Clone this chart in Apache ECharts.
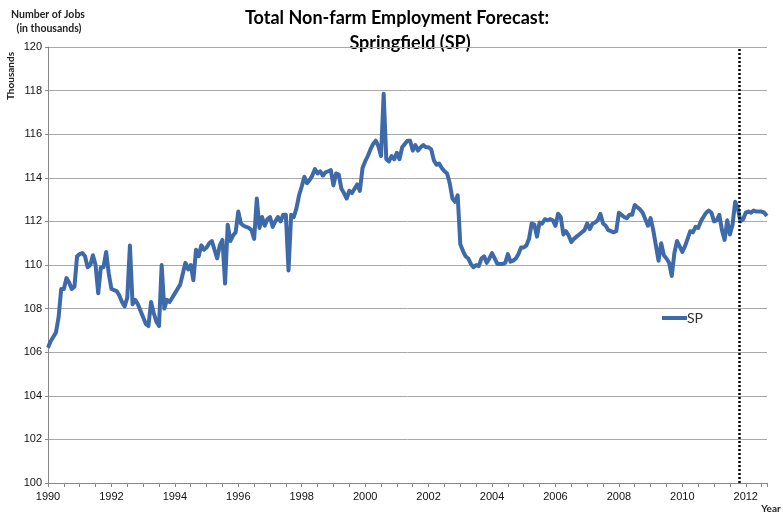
<!DOCTYPE html>
<html><head><meta charset="utf-8">
<script src="https://cdn.jsdelivr.net/npm/echarts@6/dist/echarts.min.js"></script>
<style>html,body{margin:0;padding:0;background:#fff}#c{width:783px;height:516px}</style>
</head><body><div id="c"></div>
<script>
// ---- data (monthly, thousands of jobs) ----
const startYear = 1990;
const seriesName = 'SP';
const spValues = [
  // 1990
  106.2,106.5,106.7,106.9,107.6,108.9,108.9,109.4,109.2,108.9,109.0,110.4,
  // 1991
  110.5,110.55,110.4,109.9,110.0,110.45,110.0,108.7,109.9,109.9,110.6,109.6,
  // 1992
  108.9,108.85,108.8,108.6,108.3,108.1,108.5,110.9,108.2,108.4,108.2,107.9,
  // 1993
  107.6,107.3,107.2,108.3,107.8,107.4,107.2,110.0,108.0,108.4,108.3,108.5,
  // 1994
  108.7,108.9,109.1,109.6,110.1,109.8,110.0,109.3,110.7,110.4,110.9,110.7,
  // 1995
  110.8,111.0,111.1,110.7,110.3,110.9,111.15,109.15,111.85,111.1,111.35,111.5,
  // 1996
  112.45,111.9,111.8,111.75,111.7,111.6,111.2,113.05,111.7,112.2,111.8,112.1,
  // 1997
  112.2,111.75,112.0,112.2,112.0,112.3,112.3,109.75,112.3,112.2,112.6,113.2,
  // 1998
  113.6,114.05,113.75,113.9,114.1,114.4,114.2,114.3,114.1,114.25,114.3,114.35,
  // 1999
  113.65,114.2,114.15,113.5,113.3,113.05,113.4,113.3,113.5,113.7,113.4,114.45,
  // 2000
  114.75,115.0,115.3,115.55,115.7,115.45,115.0,117.85,114.85,114.75,115.0,114.85,
  // 2001
  115.15,114.85,115.4,115.55,115.7,115.7,115.25,115.5,115.25,115.4,115.5,115.4,
  // 2002
  115.4,115.3,114.8,114.6,114.65,114.45,114.3,114.2,113.75,113.05,112.9,113.2,
  // 2003
  110.95,110.65,110.4,110.3,110.05,109.9,110.0,109.95,110.3,110.4,110.1,110.3,
  // 2004
  110.55,110.3,110.05,110.05,110.05,110.1,110.5,110.15,110.2,110.3,110.5,110.8,
  // 2005
  110.8,110.9,111.2,111.9,111.85,111.3,111.95,111.9,112.1,112.05,112.1,112.05,
  // 2006
  111.8,112.35,112.2,111.4,111.55,111.35,111.05,111.2,111.3,111.4,111.5,111.6,
  // 2007
  111.9,111.65,111.9,111.95,112.05,112.35,111.9,111.8,111.6,111.55,111.5,111.55,
  // 2008
  112.4,112.3,112.2,112.15,112.3,112.3,112.75,112.65,112.55,112.4,112.1,111.8,
  // 2009
  112.15,111.6,110.9,110.2,111.0,110.45,110.3,110.1,109.5,110.55,111.1,110.85,
  // 2010
  110.6,110.85,111.2,111.55,111.5,111.75,111.7,112.0,112.2,112.4,112.5,112.4,
  // 2011
  112.0,112.05,112.3,111.6,111.15,112.05,111.4,111.85,112.9,112.6,112.0,112.1,
  // 2012
  112.4,112.45,112.4,112.5,112.45,112.45,112.45,112.4,112.25
];
const yMin = 100, yMax = 120, yStep = 2;
const xMin = 1990, xMax = 2012.67, xStep = 2;
const forecastStart = 2011.78;
const titleLines = ['Total Non-farm Employment Forecast:', 'Springfield (SP)'];

const seriesData = spValues.map((v, i) => [startYear + i / 12, v]);

const chart = echarts.init(document.getElementById('c'), null, {renderer: 'canvas'});
chart.setOption({
  animation: false,
  backgroundColor: '#ffffff',
  grid: {left: 48, right: 16, top: 47, bottom: 33, containLabel: false},
  graphic: [
    {type: 'text', x: 397, y: 18, style: {text: titleLines[0], font: 'bold 18px Lato', fill: '#000', textAlign: 'center', textVerticalAlign: 'middle'}},
    {type: 'text', x: 410, y: 43, style: {text: titleLines[1], font: 'bold 18px Lato', fill: '#000', textAlign: 'center', textVerticalAlign: 'middle'}},
    {type: 'text', x: 48, y: 15, style: {text: 'Number of Jobs', font: 'bold 10.5px Lato', fill: '#222', textAlign: 'center', textVerticalAlign: 'middle'}},
    {type: 'text', x: 49, y: 29, style: {text: '(in thousands)', font: 'bold 10.5px Lato', fill: '#222', textAlign: 'center', textVerticalAlign: 'middle'}},
    {type: 'text', x: 11, y: 76, rotation: Math.PI / 2, style: {text: 'Thousands', font: 'bold 10px Lato', fill: '#222', textAlign: 'center', textVerticalAlign: 'middle'}},
    {type: 'text', x: 771, y: 509, style: {text: 'Year', font: 'bold 10px Lato', fill: '#222', textAlign: 'center', textVerticalAlign: 'middle'}}
  ],
  legend: {
    left: 657, top: 306,
    icon: 'rect', itemWidth: 25, itemHeight: 4, itemGap: 4,
    textStyle: {fontSize: 14, color: '#333', fontFamily: 'Lato', padding: [0, 0, 0, -5]},
    data: [seriesName]
  },
  xAxis: {
    type: 'value', min: xMin, max: xMax, interval: xStep,
    axisLine: {show: true, lineStyle: {color: '#888', width: 1}},
    axisTick: {show: true, length: 4, lineStyle: {color: '#888'}},
    minorTick: {show: true, splitNumber: 4, length: 4, lineStyle: {color: '#888'}},
    splitLine: {show: false},
    axisLabel: {
      margin: 8, fontSize: 11, color: '#111', fontFamily: 'Liberation Sans',
      showMaxLabel: false,
      formatter: v => (Math.abs(v - Math.round(v)) < 1e-6 && Math.round(v) % 2 === 0) ? String(Math.round(v)) : ''
    }
  },
  yAxis: {
    type: 'value', min: yMin, max: yMax, interval: yStep,
    axisLine: {show: true, lineStyle: {color: '#888', width: 1}},
    axisTick: {show: true, length: 3, lineStyle: {color: '#888'}},
    splitLine: {show: true, lineStyle: {color: '#a8a8a8', width: 1}},
    axisLabel: {margin: 6, fontSize: 11, color: '#111', fontFamily: 'Liberation Sans'}
  },
  series: [{
    name: seriesName, type: 'line', data: seriesData,
    showSymbol: false, symbol: 'none',
    lineStyle: {color: '#3E6AAA', width: 4, join: 'round'},
    itemStyle: {color: '#3E6AAA'},
    markLine: {
      silent: true, symbol: 'none',
      label: {show: false},
      lineStyle: {type: [2, 2], color: '#000', width: 2.5},
      data: [{xAxis: forecastStart}]
    }
  }]
});
</script>
</body></html>
